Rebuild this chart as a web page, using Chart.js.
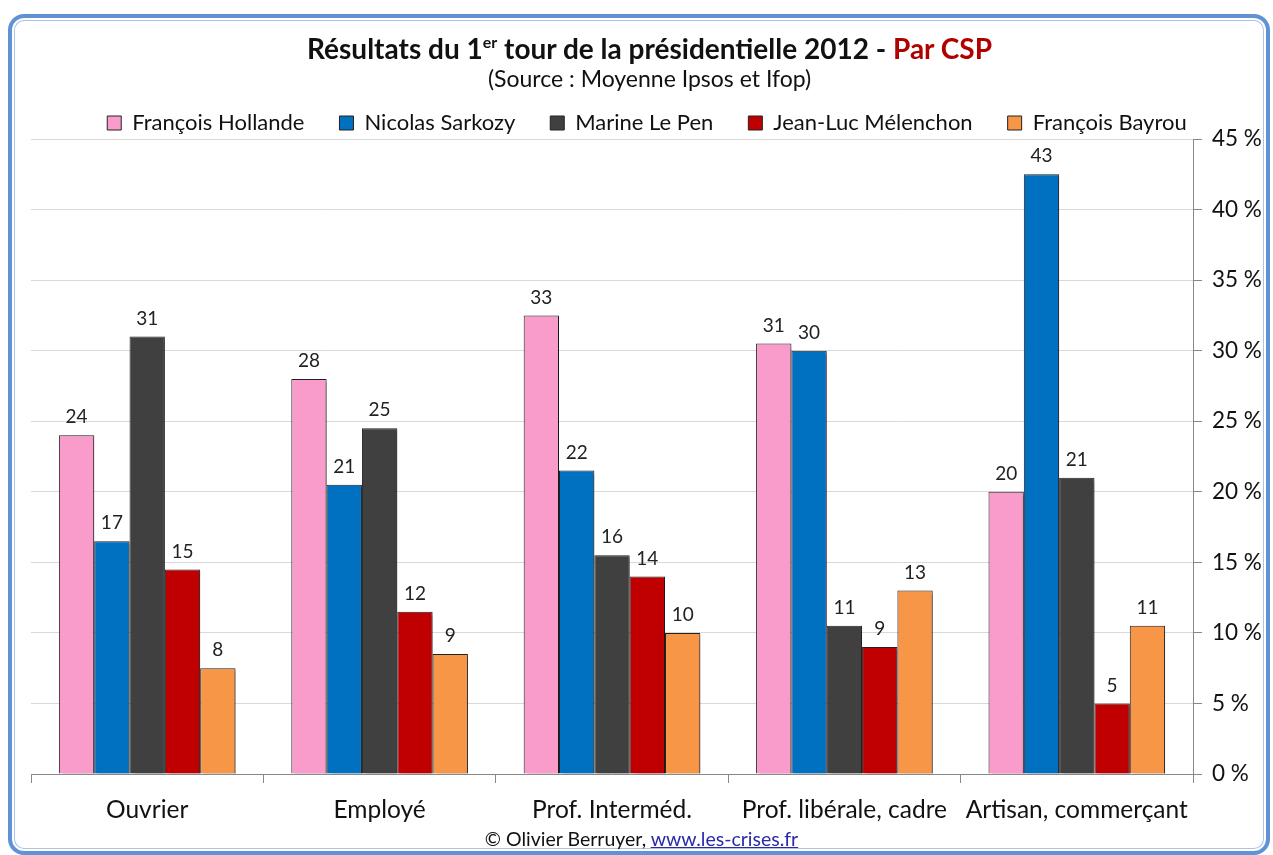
<!DOCTYPE html>
<html>
<head>
<meta charset="utf-8">
<script src="https://cdn.jsdelivr.net/npm/chart.js@4/dist/chart.umd.min.js"></script>
<style>
  body { margin: 0; background: #fff; font-family: Lato, sans-serif; }
  #wrap { position: relative; width: 1273px; height: 855px; overflow: hidden; }
  #frame {
    position: absolute; left: 8px; top: 14px; width: 1254px; height: 833px;
    border: 4px solid #5f93d6; border-radius: 16px;
    box-shadow: inset 0 0 0 2px #fff, inset 0 0 0 3px #a9c4e8;
  }
  #c { position: absolute; left: 0; top: 0; }
  .txt { position: absolute; left: 26px; width: 1247px; text-align: center; color: #111; white-space: nowrap; }
  #title { top: 31px; font-size: 28px; line-height: 34px; font-weight: bold; }
  #title sup { font-size: 16px; line-height: 0; vertical-align: 11px; }
  #title .red { color: #b00000; }
  #sub { top: 64px; font-size: 23px; line-height: 28px; }
  #foot { left: 18px; top: 827px; font-size: 19.5px; line-height: 24px; }
  #foot a { color: #2a2aa8; text-decoration: underline; }
</style>
</head>
<body>
<div id="wrap">
  <div id="frame"></div>
  <canvas id="c" width="1273" height="855"></canvas>
  <div id="title" class="txt">Résultats du 1<sup>er</sup> tour de la présidentielle 2012 - <span class="red">Par CSP</span></div>
  <div id="sub" class="txt">(Source : Moyenne Ipsos et Ifop)</div>
  <div id="foot" class="txt">© Olivier Berruyer, <a>www.les-crises.fr</a></div>
</div>
<script>
const categories = ['Ouvrier', 'Employé', 'Prof. Interméd.', 'Prof. libérale, cadre', 'Artisan, commerçant'];
const candidates = ['François Hollande', 'Nicolas Sarkozy', 'Marine Le Pen', 'Jean-Luc Mélenchon', 'François Bayrou'];
const hollande  = [24, 28, 32.5, 30.5, 20];
const sarkozy   = [16.5, 20.5, 21.5, 30, 42.5];
const lepen     = [31, 24.5, 15.5, 10.5, 21];
const melenchon = [14.5, 11.5, 14, 9, 5];
const bayrou    = [7.5, 8.5, 10, 13, 10.5];
const colors = ['#f99bcb', '#0070c0', '#404040', '#c00000', '#f79646'];

const FONT = 'Lato, sans-serif';

// bar shadows + value labels above bars
const barExtras = {
  id: 'barExtras',
  beforeDatasetsDraw(chart) {
    const ctx = chart.ctx;
    ctx.save();
    ctx.shadowColor = 'rgba(0,0,0,0.35)';
    ctx.shadowOffsetX = 3;
    ctx.shadowOffsetY = 2;
    ctx.shadowBlur = 3;
  },
  afterDatasetsDraw(chart) {
    const ctx = chart.ctx;
    ctx.restore();
    ctx.save();
    ctx.font = '19px ' + FONT;
    ctx.fillStyle = '#222';
    ctx.textAlign = 'center';
    ctx.textBaseline = 'middle';
    chart.data.datasets.forEach((ds, i) => {
      chart.getDatasetMeta(i).data.forEach((bar, j) => {
        ctx.fillText(Math.round(ds.data[j]), bar.x, bar.y - 18);
      });
    });
    ctx.restore();
  }
};

const seriesData = [hollande, sarkozy, lepen, melenchon, bayrou];

new Chart(document.getElementById('c'), {
  type: 'bar',
  data: {
    labels: categories,
    datasets: candidates.map((name, i) => ({
      label: name,
      data: seriesData[i],
      backgroundColor: colors[i],
      borderColor: '#222',
      borderWidth: 1,
      categoryPercentage: 0.76,
      barPercentage: 1
    }))
  },
  options: {
    responsive: false,
    animation: false,
    devicePixelRatio: 1,
    layout: { padding: { top: 77, left: 31, right: 10, bottom: 23 } },
    plugins: {
      legend: {
        position: 'top',
        maxHeight: 62,
        labels: {
          boxWidth: 14, boxHeight: 14, padding: 35,
          color: '#111', font: { size: 22, family: FONT }
        }
      },
      tooltip: { enabled: false }
    },
    scales: {
      x: {
        grid: { offset: true, drawOnChartArea: false, tickLength: 9, tickColor: '#888', color: '#888' },
        border: { color: '#888' },
        ticks: { color: '#111', font: { size: 24.5, family: FONT }, padding: 12, maxRotation: 0, autoSkip: false },
        afterFit: s => { s.height = 58; }
      },
      y: {
        position: 'right',
        min: 0, max: 45,
        grid: { color: '#d9d9d9', tickColor: '#888', tickLength: 9 },
        border: { color: '#888' },
        ticks: { stepSize: 5, color: '#111', font: { size: 22.5, family: FONT }, padding: 10,
                 callback: v => v + ' %' },
        afterFit: s => { s.width = 70; }
      }
    }
  },
  plugins: [barExtras]
});
</script>
</body>
</html>
